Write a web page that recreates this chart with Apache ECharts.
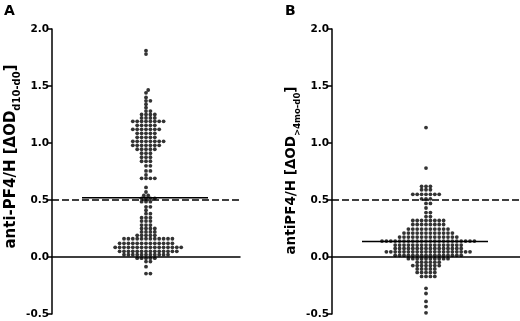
<!DOCTYPE html>
<html>
<head>
<meta charset="utf-8">
<script src="https://cdn.jsdelivr.net/npm/echarts@6/dist/echarts.min.js"></script>
<style>
  html, body { margin: 0; padding: 0; background: #fff; }
  #chart { width: 520px; height: 321px; }
</style>
</head>
<body>
<div id="chart"></div>
<script>
// ΔOD values, one entry per patient
const valuesA = [
  1.81, 1.78,
  1.465, 1.44, 1.40, 1.37, 1.37, 1.34, 1.31, 1.28, 1.28,
  1.25, 1.25, 1.25, 1.25, 1.22, 1.22, 1.22, 1.22,
  1.19, 1.19, 1.19, 1.19, 1.19, 1.19, 1.19, 1.19,
  1.155, 1.155, 1.155, 1.155, 1.155,
  1.12, 1.12, 1.12, 1.12, 1.12, 1.12, 1.12,
  1.085, 1.085, 1.085, 1.085, 1.085,
  1.05, 1.05, 1.05, 1.05, 1.05,
  1.015, 1.015, 1.015, 1.015, 1.015, 1.015, 1.015, 1.015,
  0.98, 0.98, 0.98, 0.98, 0.98, 0.98, 0.98,
  0.945, 0.945, 0.945, 0.945, 0.945,
  0.91, 0.91, 0.91, 0.875, 0.875, 0.875, 0.84, 0.84, 0.84,
  0.80, 0.80, 0.755, 0.755, 0.72, 0.69, 0.69, 0.69, 0.69,
  0.61, 0.57, 0.54, 0.54, 0.515, 0.515, 0.515, 0.515, 0.485, 0.485, 0.485,
  0.44, 0.44, 0.41, 0.38, 0.38, 0.345, 0.345, 0.345, 0.315, 0.315, 0.315,
  0.28, 0.28, 0.28, 0.25, 0.25, 0.25, 0.25, 0.22, 0.22, 0.22, 0.22,
  0.19, 0.19, 0.19, 0.19, 0.19,
  0.16, 0.16, 0.16, 0.16, 0.16, 0.16, 0.16, 0.16, 0.16, 0.16, 0.16, 0.16,
  0.12, 0.12, 0.12, 0.12, 0.12, 0.12, 0.12, 0.12, 0.12, 0.12, 0.12, 0.12, 0.12,
  0.085, 0.085, 0.085, 0.085, 0.085, 0.085, 0.085, 0.085,
  0.085, 0.085, 0.085, 0.085, 0.085, 0.085, 0.085, 0.085,
  0.05, 0.05, 0.05, 0.05, 0.05, 0.05, 0.05, 0.05, 0.05, 0.05, 0.05, 0.05, 0.05, 0.05,
  0.02, 0.02, 0.02, 0.02, 0.02, 0.02, 0.02, 0.02, 0.02, 0.02, 0.02,
  -0.01, -0.01, -0.01, -0.01, -0.01, -0.04, -0.04, -0.085, -0.145, -0.145
];
const valuesB = [
  1.135, 0.78,
  0.62, 0.62, 0.62, 0.59, 0.59, 0.59,
  0.55, 0.55, 0.55, 0.55, 0.55, 0.55, 0.55, 0.51, 0.51, 0.51,
  0.47, 0.47, 0.43, 0.39, 0.39, 0.355, 0.355,
  0.32, 0.32, 0.32, 0.32, 0.32, 0.32, 0.32, 0.32,
  0.285, 0.285, 0.285, 0.285, 0.285, 0.285, 0.285, 0.285,
  0.245, 0.245, 0.245, 0.245, 0.245, 0.245, 0.245, 0.245, 0.245, 0.245,
  0.21, 0.21, 0.21, 0.21, 0.21, 0.21, 0.21, 0.21, 0.21, 0.21, 0.21, 0.21,
  0.175, 0.175, 0.175, 0.175, 0.175, 0.175, 0.175, 0.175, 0.175, 0.175, 0.175, 0.175, 0.175, 0.175,
  0.14, 0.14, 0.14, 0.14, 0.14, 0.14, 0.14, 0.14, 0.14, 0.14, 0.14,
  0.14, 0.14, 0.14, 0.14, 0.14, 0.14, 0.14, 0.14, 0.14, 0.14, 0.14,
  0.105, 0.105, 0.105, 0.105, 0.105, 0.105, 0.105, 0.105,
  0.105, 0.105, 0.105, 0.105, 0.105, 0.105, 0.105, 0.105,
  0.075, 0.075, 0.075, 0.075, 0.075, 0.075, 0.075, 0.075,
  0.075, 0.075, 0.075, 0.075, 0.075, 0.075, 0.075, 0.075,
  0.045, 0.045, 0.045, 0.045, 0.045, 0.045, 0.045, 0.045, 0.045, 0.045,
  0.045, 0.045, 0.045, 0.045, 0.045, 0.045, 0.045, 0.045, 0.045, 0.045,
  0.015, 0.015, 0.015, 0.015, 0.015, 0.015, 0.015, 0.015,
  0.015, 0.015, 0.015, 0.015, 0.015, 0.015, 0.015, 0.015,
  -0.015, -0.015, -0.015, -0.015, -0.015, -0.015, -0.015, -0.015, -0.015, -0.015,
  -0.045, -0.045, -0.045, -0.045, -0.045, -0.045,
  -0.075, -0.075, -0.075, -0.075, -0.075, -0.075, -0.075,
  -0.105, -0.105, -0.105, -0.105, -0.105,
  -0.135, -0.135, -0.135, -0.135, -0.135,
  -0.17, -0.17, -0.17, -0.17,
  -0.275, -0.32, -0.39, -0.435, -0.49
];
const medians = [0.52, 0.135];
const cutoff = 0.5;
const yMin = -0.5, yMax = 2.0, yStep = 0.5;
const panelLabels = ['A', 'B'];
const axisNames = [
  '{m|anti-PF4/H [ΔOD}{s|d10-d0}{m|]}',
  '{m|antiPF4/H [ΔOD}{s|>4mo-d0}{m|]}'
];

const FONT = 'DejaVu Sans';
const PLOT_H = 285;
const gridLefts = [52, 332];

// simple beeswarm: each dot goes as close to the centre as it can without touching,
// on the side that keeps its row balanced
function swarm(values) {
  const pxPerUnit = PLOT_H / (yMax - yMin);
  const gap = 4.4, minDist = 3.3;
  const placed = [];
  return values.slice().sort((a, b) => a - b).map((v) => {
    const y = v * pxPerUnit;
    const free = (c) => placed.every((p) => Math.hypot(p[0] - c, p[1] - y) >= minDist);
    const rowSum = placed.filter((p) => Math.abs(p[1] - y) < 2).reduce((s, p) => s + p[0], 0);
    let x = 0;
    for (let k = 0; k < 60; k++) {
      const cands = (k === 0 ? [0] : [k * gap / 2, -k * gap / 2]).filter(free);
      if (cands.length) {
        cands.sort((a, b) => Math.abs(rowSum + a) - Math.abs(rowSum + b));
        x = cands[0];
        break;
      }
    }
    placed.push([x, y]);
    return [x, v];
  });
}

const black = '#000';
const allValues = [valuesA, valuesB];

// per-panel title text settings (B is set a bit tighter in the original)
const nameStyle = [
  { main: 15, sub: 10, subLine: 10, pad: [0, 0, 0, 30], gap: 27 },
  { main: 13.5, sub: 8.5, subLine: 14, pad: [0, 0, 0, 2], gap: 26 },
];

const option = {
  animation: false,
  title: panelLabels.map((t, i) => ({
    text: t,
    left: i === 0 ? 4 : 285,
    top: 4,
    padding: 0,
    textStyle: { fontFamily: FONT, fontWeight: 'bold', fontSize: 14, color: black },
  })),
  grid: gridLefts.map((l) => ({ left: l, top: 29, width: 188, height: PLOT_H })),
  xAxis: gridLefts.map((l, i) => ({
    gridIndex: i,
    type: 'value',
    min: -94,
    max: 94,
    axisLine: { onZero: true, lineStyle: { color: black, width: 1.5 } },
    axisTick: { show: false },
    axisLabel: { show: false },
    splitLine: { show: false },
  })),
  yAxis: gridLefts.map((l, i) => ({
    gridIndex: i,
    type: 'value',
    min: yMin,
    max: yMax,
    interval: yStep,
    name: axisNames[i],
    nameLocation: 'middle',
    nameRotate: 90,
    nameGap: nameStyle[i].gap,
    nameTextStyle: {
      padding: nameStyle[i].pad,
      rich: {
        m: { fontFamily: FONT, fontWeight: 'bold', fontSize: nameStyle[i].main, color: black, lineHeight: 22 },
        s: { fontFamily: FONT, fontWeight: 'bold', fontSize: nameStyle[i].sub, color: black, lineHeight: nameStyle[i].subLine, verticalAlign: 'bottom' },
      },
    },
    axisLine: { show: true, onZero: false, lineStyle: { color: black, width: 1.5 } },
    axisTick: { show: true, length: 4, lineStyle: { color: black, width: 1.5 } },
    axisLabel: {
      formatter: (v) => v.toFixed(1),
      fontFamily: FONT,
      fontWeight: 'bold',
      fontSize: 10.5,
      color: black,
      margin: 3,
    },
    splitLine: { show: false },
  })),
  series: [],
};

allValues.forEach((vals, i) => {
  option.series.push({
    type: 'scatter',
    xAxisIndex: i,
    yAxisIndex: i,
    data: swarm(vals),
    symbolSize: 3.8,
    itemStyle: { color: black },
    markLine: {
      silent: true,
      symbol: 'none',
      label: { show: false },
      lineStyle: { color: black, width: 1.5, type: [7, 3] },
      data: [{ yAxis: cutoff }],
    },
  });
  option.series.push({
    type: 'line',
    xAxisIndex: i,
    yAxisIndex: i,
    data: [[-64, medians[i]], [62, medians[i]]],
    symbol: 'none',
    lineStyle: { color: black, width: 1.5 },
    z: 3,
  });
});

const chart = echarts.init(document.getElementById('chart'));
chart.setOption(option);
</script>
</body>
</html>
